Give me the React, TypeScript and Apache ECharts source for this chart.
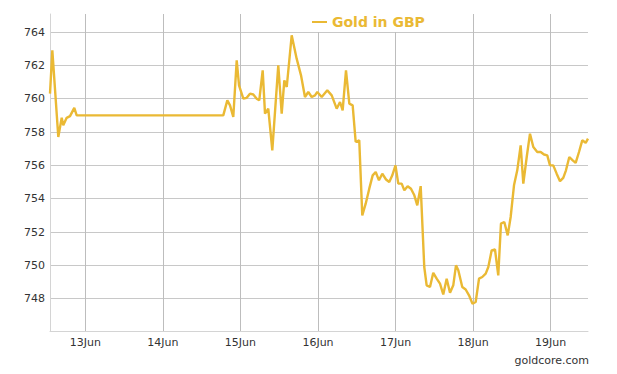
import React, { useEffect, useRef } from "react";
import * as echarts from "echarts";

const seriesName = "Gold in GBP";
const dayTicks = [13, 14, 15, 16, 17, 18, 19];
const priceTicks = [748, 750, 752, 754, 756, 758, 760, 762, 764];

// x: day of June (fractional), y: price in GBP
const times = [
  12.545, 12.575, 12.652, 12.696, 12.716, 12.76, 12.803, 12.858, 12.889, 14.779,
  14.831, 14.866, 14.908, 14.952, 14.982, 15.037, 15.081, 15.123, 15.166, 15.21,
  15.243, 15.287, 15.317, 15.359, 15.411, 15.488, 15.532, 15.566, 15.597, 15.661,
  15.725, 15.781, 15.832, 15.875, 15.919, 15.961,
  15.991, 16.048, 16.12, 16.177, 16.241, 16.284, 16.318, 16.361, 16.404, 16.447,
  16.486, 16.532, 16.571, 16.615, 16.661, 16.705, 16.744, 16.786, 16.829, 16.877,
  16.919, 16.958, 16.999, 17.035, 17.079, 17.113, 17.156, 17.199, 17.242, 17.28,
  17.324, 17.37, 17.401, 17.444, 17.486, 17.53, 17.573, 17.615, 17.659, 17.702,
  17.744, 17.779, 17.809, 17.86, 17.904, 17.947, 17.992, 18.033, 18.076, 18.118,
  18.162, 18.196, 18.239, 18.282, 18.324, 18.359, 18.402, 18.446, 18.484, 18.527,
  18.569, 18.613, 18.647, 18.691, 18.733, 18.776, 18.827, 18.871, 18.914, 18.956,
  18.991, 19.033, 19.077, 19.12, 19.162, 19.197, 19.24, 19.284, 19.322, 19.365,
  19.407, 19.451, 19.481,
];

const prices = [
  760.3, 762.9, 757.7, 758.85, 758.4, 758.85, 758.95, 759.45, 759.0, 759.0,
  759.9, 759.6, 758.9, 762.3, 760.8, 760.0, 760.05, 760.3, 760.25, 760.0,
  759.9, 761.7, 759.1, 759.4, 756.9, 762.0, 759.1, 761.1, 760.7, 763.8,
  762.4, 761.4, 760.1, 760.4, 760.1, 760.2,
  760.4, 760.1, 760.5, 760.2, 759.4, 759.8, 759.3, 761.7, 759.7, 759.6,
  757.4, 757.5, 753.0, 753.7, 754.6, 755.4, 755.6, 755.1, 755.5, 755.15,
  755.0, 755.4, 756.0, 754.9, 754.9, 754.5, 754.75, 754.6, 754.2, 753.6,
  754.75, 749.9, 748.8, 748.7, 749.55, 749.2, 748.9, 748.25, 749.2, 748.35,
  748.8, 750.0, 749.7, 748.7, 748.55, 748.2, 747.7, 747.8, 749.2, 749.3,
  749.5, 749.9, 750.9, 750.95, 749.4, 752.5, 752.6, 751.8, 752.9, 754.8,
  755.7, 757.2, 754.9, 756.5, 757.9, 757.1, 756.8, 756.8, 756.65, 756.6,
  756.0, 756.0, 755.5, 755.05, 755.25, 755.7, 756.5, 756.3, 756.15, 756.8,
  757.5, 757.35, 757.6,
];

const GOLD = "#EAB934";
const FONT = '"DejaVu Sans", Verdana, sans-serif';

export default function App() {
  const ref = useRef<HTMLDivElement>(null);

  useEffect(() => {
    if (!ref.current) return;
    const chart = echarts.init(ref.current, undefined, { renderer: "svg" });
    const data = times.map((t, i) => [t, prices[i]]);
    chart.setOption({
      animation: false,
      backgroundColor: "#fff",
      grid: {
        left: 50,
        right: 29,
        top: 14,
        bottom: 43,
        containLabel: false,
        outerBoundsMode: "none",
      },
      legend: {
        show: true,
        left: 305,
        top: 6,
        padding: [9, 9, 3, 7],
        backgroundColor: "#fff",
        icon: "rect",
        itemWidth: 15,
        itemHeight: 2,
        selectedMode: false,
        textStyle: {
          color: GOLD,
          fontFamily: FONT,
          fontWeight: "bold",
          fontSize: 14,
        },
        data: [seriesName],
      },
      xAxis: {
        type: "value",
        min: times[0],
        max: times[times.length - 1],
        axisLine: { show: true, lineStyle: { color: "#d4d4d4", width: 1 } },
        axisTick: { show: false, customValues: dayTicks },
        axisLabel: {
          customValues: dayTicks,
          formatter: (v: number) => `${Math.round(v)}Jun`,
          color: "#333",
          fontFamily: FONT,
          fontSize: 11,
          margin: 6,
        },
        splitLine: { show: true, lineStyle: { color: "#bdbdbd", width: 1 } },
      },
      yAxis: {
        type: "value",
        min: 746.06,
        max: 765.08,
        axisLine: { show: true, lineStyle: { color: "#d4d4d4", width: 1 } },
        axisTick: { show: false, customValues: priceTicks },
        axisLabel: {
          customValues: priceTicks,
          color: "#333",
          fontFamily: FONT,
          fontSize: 11,
          margin: 5,
        },
        splitLine: { show: true, lineStyle: { color: "#c8c8c8", width: 1 } },
      },
      graphic: [
        {
          type: "text",
          right: 28,
          top: 355,
          style: {
            text: "goldcore.com",
            fontSize: 11,
            fontFamily: FONT,
            fill: "#333",
          },
        },
      ],
      series: [
        {
          name: seriesName,
          type: "line",
          data,
          showSymbol: false,
          symbol: "none",
          color: GOLD,
          lineStyle: { color: GOLD, width: 2.4 },
          emphasis: { disabled: true },
        },
      ],
    });
    return () => chart.dispose();
  }, []);

  return <div ref={ref} style={{ width: 617, height: 374, marginLeft: -8, marginTop: -8 }} />;
}
